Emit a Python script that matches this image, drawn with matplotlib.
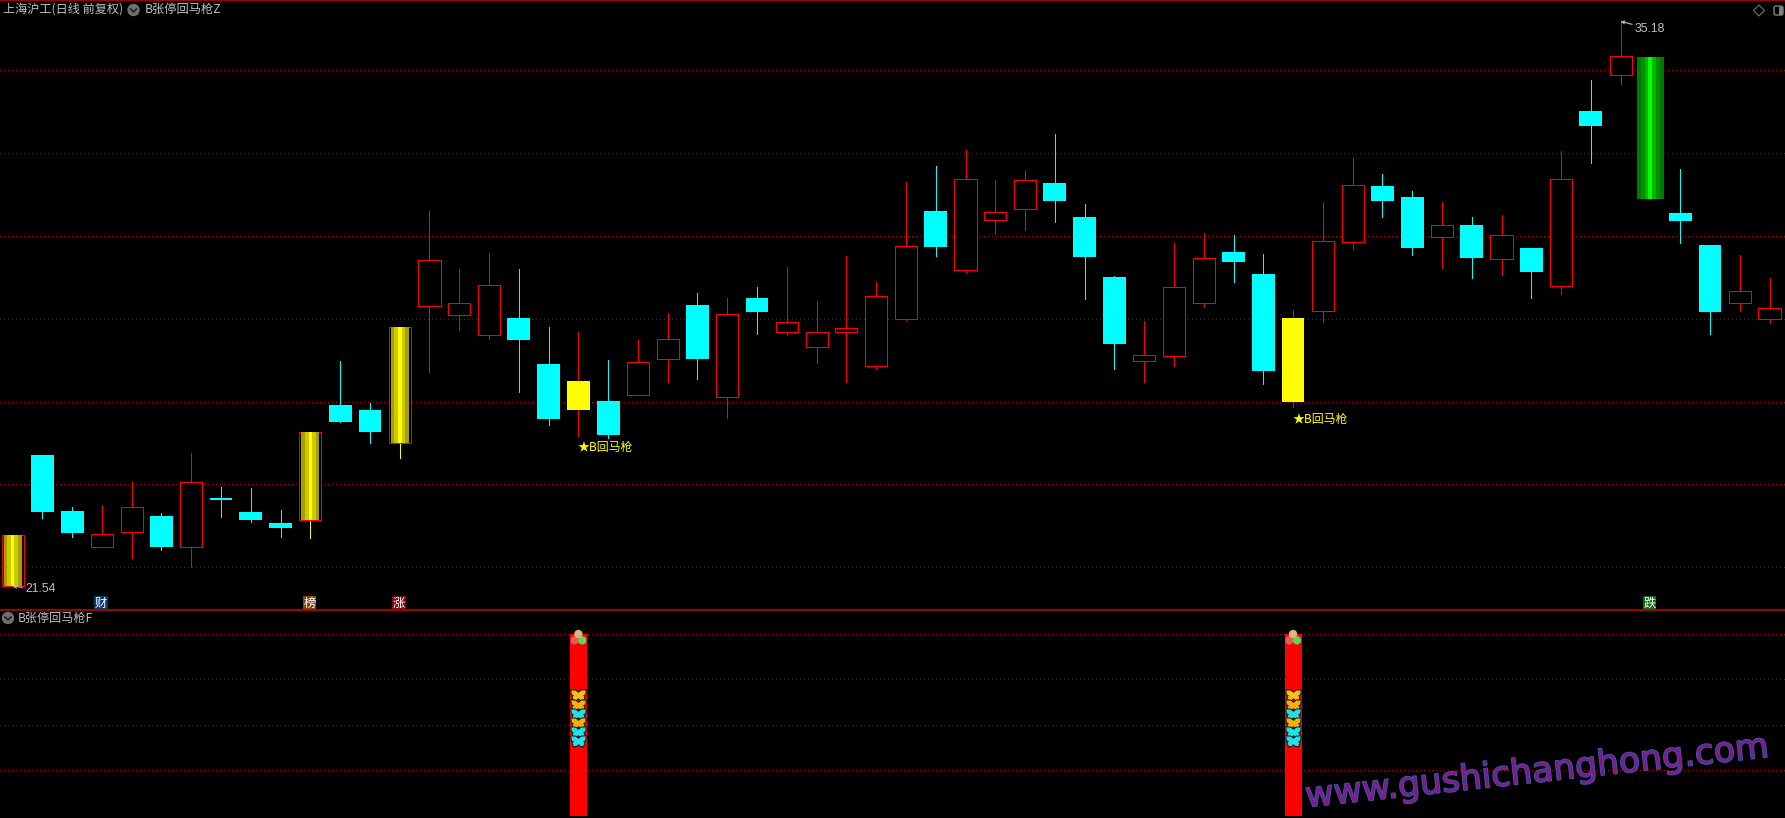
import matplotlib
matplotlib.use('Agg')
import matplotlib.pyplot as plt
import matplotlib.patheffects as pe
from matplotlib.path import Path
from matplotlib.patches import Circle, Polygon, FancyBboxPatch, Rectangle

plt.rcParams['font.family'] = ['Noto Sans CJK SC', 'DejaVu Sans']

#daily bars, r = hollow red, c = cyan, y = yellow, j = gold limit up, n = green limit down
kinds = list('jccrrcrccc'
             'jccjrrrccy'
             'crrcrcrrrr'
             'rcrrrcccrr'
             'rccyrrccrc'
             'rcrcrnccrr')
highs = [22.77, 24.71, 23.46, 23.51, 24.06, 23.31, 24.76, 23.94, 23.92, 23.38,
         25.27, 26.98, 25.97, 27.80, 30.60, 29.20, 29.59, 29.20, 27.80, 27.68,
         27.01, 27.49, 28.14, 28.62, 28.50, 28.77, 29.25, 28.43, 29.52, 28.89,
         31.30, 31.69, 32.08, 31.35, 31.59, 32.46, 30.77, 29.03, 27.95, 29.83,
         30.07, 30.02, 29.56, 28.21, 30.82, 31.88, 31.50, 31.09, 30.82, 30.46,
         30.51, 29.71, 32.05, 33.77, 35.18, 34.32, 31.62, 29.78, 29.54, 28.99]
body_tops = [22.77, 24.71, 23.36, 22.80, 23.45, 23.24, 24.05, 23.67, 23.34, 23.07,
             25.27, 25.92, 25.80, 27.80, 29.41, 28.37, 28.81, 28.02, 26.91, 26.50,
             26.02, 26.95, 27.51, 28.33, 28.11, 28.50, 27.92, 27.67, 27.77, 28.54,
             29.75, 30.60, 31.37, 30.57, 31.34, 31.28, 30.46, 29.01, 27.12, 28.78,
             29.46, 29.61, 29.08, 28.02, 29.89, 31.22, 31.21, 30.94, 30.26, 30.26,
             30.02, 29.71, 31.37, 33.02, 34.34, 34.32, 30.55, 29.78, 28.66, 28.25]
body_bots = [21.54, 23.34, 22.83, 22.50, 22.86, 22.49, 22.50, 23.63, 23.14, 22.95,
             23.14, 25.51, 25.27, 25.00, 28.32, 28.10, 27.62, 27.49, 25.58, 25.80,
             25.20, 26.15, 27.04, 27.03, 26.11, 28.17, 27.69, 27.33, 27.67, 26.87,
             28.00, 29.73, 29.19, 30.39, 30.66, 30.85, 29.49, 27.39, 26.99, 27.11,
             28.37, 29.37, 26.74, 25.99, 28.20, 29.86, 30.84, 29.71, 29.98, 29.47,
             29.45, 29.13, 28.80, 32.66, 33.89, 30.89, 30.36, 28.16, 28.39, 28.00]
lows = [21.54, 23.20, 22.73, 22.50, 22.23, 22.42, 22.01, 23.22, 23.09, 22.73,
        22.71, 25.51, 25.00, 24.64, 26.72, 27.73, 27.51, 26.23, 25.44, 25.17,
        25.13, 26.15, 26.48, 26.55, 25.61, 27.63, 27.61, 26.93, 26.48, 26.79,
        27.97, 29.52, 29.13, 30.05, 30.14, 30.34, 28.48, 26.79, 26.48, 26.86,
        28.29, 28.89, 26.43, 25.87, 27.92, 29.69, 30.46, 29.54, 29.23, 28.99,
        29.06, 28.50, 28.60, 31.76, 33.67, 30.89, 29.83, 27.63, 28.19, 27.90]
price_grid = [34, 32, 30, 28, 26, 24, 22]
signal_days = [19, 43]
signal_prices = [24.90, 25.56]
badge_days = [3, 10, 13, 55]
badge_labels = ['财', '榜', '涨', '跌']
badge_colors = ['#0c3a6c', '#80450f', '#7a0c0c', '#0f6a14']
low_label = '21.54'
high_label = '35.18'

#lower panel
lower_grid = [100, 75, 50, 25]
butterfly_levels = [66.4, 60.9, 56.0, 50.8, 46.2, 41.2]
butterfly_colors = ['#f8c010', '#f0b010', '#20e0e8', '#f0b010', '#20e0e8', '#20e0e8']

RED = '#ff0000'
GRID = '#a00000'
TXT = '#c0c0c0'
PX = 0.72

fig = plt.figure(figsize=(17.85, 8.18), dpi=100, facecolor='black')
ax = fig.add_axes([0, 1 - 610 / 818, 1, 610 / 818], facecolor='black')
ax2 = fig.add_axes([0, 0, 1, 208 / 818], facecolor='black')
ov = fig.add_axes([0, 0, 1, 1])
ov.set_xlim(0, 1785)
ov.set_ylim(818, 0)
ov.axis('off')
ov.patch.set_alpha(0)

for a in [ax, ax2]:
    a.set_xlim(-0.423, 59.52)
    a.set_xticks([])
    a.set_yticks([])
    for s in a.spines.values():
        s.set_visible(False)
    a.spines['top'].set_visible(True)
    a.spines['top'].set_color('#c00000')
    a.spines['top'].set_linewidth(1.2)
ax.set_ylim(20.97, 35.697)
ax2.set_ylim(-1.27, 113.2)

for p in price_grid:
    ax.axhline(p, color=GRID, lw=PX, ls=(0, (1, 3)), zorder=1, antialiased=False)
for p in lower_grid:
    ax2.axhline(p, color=GRID, lw=PX, ls=(0, (1, 3)), zorder=1, antialiased=False)

wick_col = {'r': RED, 'y': RED, 'c': '#00ffff', 'j': '#ffff00', 'n': '#00a000'}
gold = ['#a8a000', '#d0c800', '#ffff00', '#d0c800', '#a8a000']
green = ['#007a00', '#009000', '#00b400', '#00ff00', '#00b400', '#009000', '#007a00']
bw = 0.765

for i, k in enumerate(kinds):
    ax.vlines(i, lows[i], highs[i], color=wick_col[k], lw=PX, zorder=2, antialiased=False)
    h = body_tops[i] - body_bots[i]
    if k == 'c':
        ax.bar(i, h, bw, bottom=body_bots[i], color='#00ffff', zorder=3, antialiased=False)
    elif k == 'y':
        ax.bar(i, h, bw, bottom=body_bots[i], color='#ffff00', zorder=3, antialiased=False)
    else:
        if k != 'n':
            ax.bar(i, h, 0.745, bottom=body_bots[i], facecolor='black', edgecolor=RED,
                   lw=PX, zorder=3, antialiased=False)
        if k == 'j':
            sw = 0.6 / len(gold)
            for j, c in enumerate(gold):
                ax.bar(i + (j - 2) * sw, h, sw, bottom=body_bots[i], color=c, zorder=4, antialiased=False)
        if k == 'n':
            sw = 0.91 / len(green)
            for j, c in enumerate(green):
                ax.bar(i + (j - 3) * sw, h, sw, bottom=body_bots[i], color=c, zorder=4, antialiased=False)

for d, p in zip(signal_days, signal_prices):
    ax.text(d - 0.03, p, '★B回马枪', color='#ffff00', fontsize=8.6, va='center', ha='left', zorder=6)

for d, lab, c in zip(badge_days, badge_labels, badge_colors):
    ax.text(d - 0.03, 21.13, lab, color='white', fontsize=8.8, ha='center', va='center', zorder=6,
            bbox=dict(boxstyle='square,pad=0.05', fc=c, ec='none'))

#hi/lo arrows
ax.annotate(low_label, xy=(0.0, 21.54), xytext=(0.42, 21.48), color=TXT, fontsize=8.8, va='center',
            family='Liberation Sans', zorder=7,
            arrowprops=dict(arrowstyle='->', color=TXT, lw=0.8, mutation_scale=5, shrinkA=0, shrinkB=0))
ax.annotate(high_label, xy=(54.0, 35.18), xytext=(54.48, 35.0), color=TXT, fontsize=8.8, va='center',
            family='Liberation Sans', zorder=7,
            arrowprops=dict(arrowstyle='->', color=TXT, lw=0.8, mutation_scale=5, shrinkA=0, shrinkB=0))

#lower panel bars and icons
butterfly = Path([(0, 0.42), (-0.35, 0.7), (-1, 0.72), (-0.92, 0.1), (-0.68, -0.02), (-0.85, -0.2),
                  (-0.62, -0.7), (-0.2, -0.62), (0, -0.42), (0.2, -0.62), (0.62, -0.7), (0.85, -0.2),
                  (0.68, -0.02), (0.92, 0.1), (1, 0.72), (0.35, 0.7), (0, 0.42)], closed=True)
for d in signal_days:
    ax2.bar(d, 100, 0.57, bottom=0, color=RED, zorder=3, antialiased=False)
    for lv, c in zip(butterfly_levels, butterfly_colors):
        ax2.scatter([d], [lv], marker=butterfly, s=125, c=c, edgecolors='#101818', linewidths=0.7, zorder=5)
    ax2.scatter([d - 0.13], [96.5], s=36, c='#e85a5a', edgecolors='none', zorder=6)
    ax2.scatter([d + 0.13], [96.5], s=36, c='#58d858', edgecolors='none', zorder=6)
    ax2.scatter([d], [100], s=36, c='#d8b878', edgecolors='none', zorder=7, clip_on=False)

#titles, icons
ov.text(3, 9.5, '上海沪工(日线 前复权)', color=TXT, fontsize=8.75, va='center')
ov.text(145, 9.5, 'B张停回马枪Z', color=TXT, fontsize=8.8, va='center')
ov.text(18, 618, 'B张停回马枪F', color=TXT, fontsize=8.7, va='center')
for cx, cy in [(133.5, 10), (8, 618)]:
    ov.add_patch(Circle((cx, cy), 6.2, fc='#707070', ec='none'))
    ov.plot([cx - 3, cx, cx + 3], [cy - 1, cy + 2, cy - 1], color='#202020', lw=1.2)
ov.add_patch(Polygon([(1759, 5), (1764.5, 10.5), (1759, 16), (1753.5, 10.5)], fc='none', ec='#707070', lw=0.8))
ov.add_patch(FancyBboxPatch((1774, 6), 9, 9, boxstyle='round,pad=0,rounding_size=2', fc='none', ec='#808080', lw=1))
ov.add_patch(Rectangle((1779, 6.5), 4, 8, fc='#808080', ec='none'))

ov.text(1537, 772, 'www.gushichanghong.com', color='#7a1c8c', fontsize=25, family='DejaVu Sans',
        rotation=6.2, rotation_mode='anchor', ha='center', va='center', zorder=8,
        path_effects=[pe.withStroke(linewidth=1.2, foreground='#3f5aa8')])

fig.savefig('out.png', dpi=100, facecolor='black')
